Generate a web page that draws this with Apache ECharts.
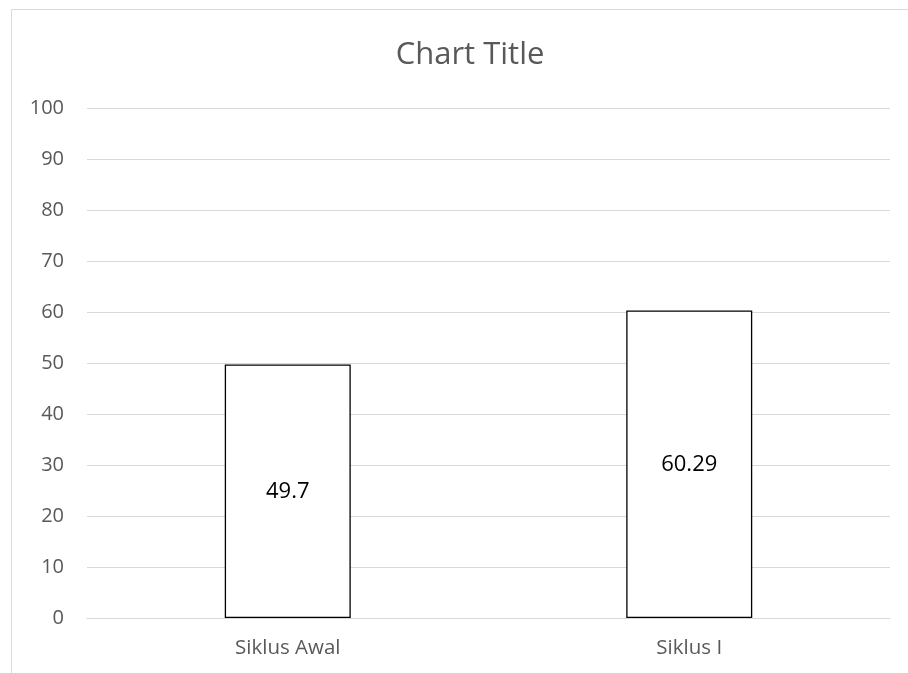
<!DOCTYPE html>
<html>
<head>
<meta charset="utf-8">
<title>Chart Title</title>
<script src="https://cdn.jsdelivr.net/npm/echarts@6/dist/echarts.min.js"></script>
<style>
  html, body { margin: 0; padding: 0; background: #ffffff; }
  #chart { width: 908px; height: 673px; }
</style>
</head>
<body>
<div id="chart"></div>
<script>
// Cycle names and their scores
const categories = ['Siklus Awal', 'Siklus I'];
const scores = [49.7, 60.29];

// Value axis range
const yMin = 0;
const yMax = 100;
const yStep = 10;

const chart = echarts.init(document.getElementById('chart'), null, { renderer: 'canvas' });

const font = '"Open Sans", "Noto Sans", sans-serif';

chart.setOption({
  backgroundColor: '#ffffff',
  animation: false,
  title: {
    text: 'Chart Title',
    left: 465,
    top: 35,
    textAlign: 'center',
    textStyle: {
      fontFamily: font,
      fontSize: 31,
      fontWeight: 'normal',
      color: '#595959'
    }
  },
  graphic: [
    {
      // outer chart frame
      type: 'rect',
      silent: true,
      z: -1,
      shape: { x: 11.5, y: 9.5, width: 940, height: 720 },
      style: { fill: 'none', stroke: '#d9d9d9', lineWidth: 1 }
    }
  ],
  grid: {
    left: 87,
    right: 18,
    top: 108,
    bottom: 55,
    containLabel: false
  },
  xAxis: {
    type: 'category',
    data: categories,
    z: 5,
    axisLine: { show: true, lineStyle: { color: '#d9d9d9', width: 1 } },
    axisTick: { show: false },
    axisLabel: {
      fontFamily: font,
      fontSize: 20.5,
      color: '#595959',
      margin: 20
    }
  },
  yAxis: {
    type: 'value',
    min: yMin,
    max: yMax,
    interval: yStep,
    axisLine: { show: false },
    axisTick: { show: false },
    splitLine: { show: true, lineStyle: { color: '#d9d9d9', width: 1 } },
    axisLabel: {
      fontFamily: font,
      fontSize: 20,
      color: '#595959',
      margin: 23
    }
  },
  series: [
    {
      type: 'bar',
      data: scores,
      barWidth: 126,
      itemStyle: {
        color: '#ffffff',
        borderColor: '#000000',
        borderWidth: 1.3
      },
      label: {
        show: true,
        position: 'inside',
        fontFamily: font,
        fontSize: 22,
        color: '#000000'
      }
    }
  ]
});
</script>
</body>
</html>
